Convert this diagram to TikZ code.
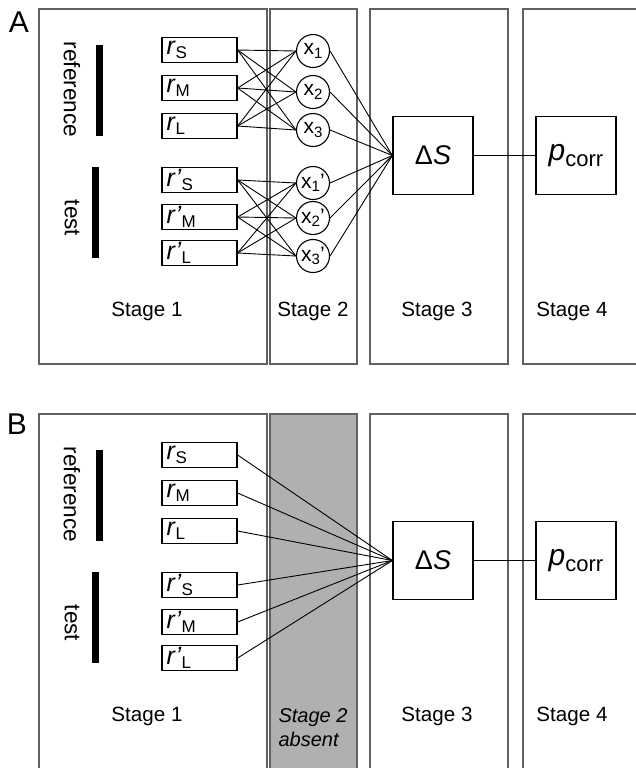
\documentclass[tikz,border=0pt]{standalone}
\usepackage{fontspec}
\setmainfont{Liberation Sans}
\newcommand{\sbs}[1]{\raisebox{-0.3ex}{\fontsize{7.5}{9}\selectfont #1}}
\newcommand{\rlab}[2]{\fontsize{12.5}{14}\selectfont\textit{r#1}\raisebox{-0.3ex}{\fontsize{8.5}{10}\selectfont #2}}

\begin{document}
\begin{tikzpicture}[x=0.5pt,y=-0.5pt,
  etapa/.style={draw=black!62,line width=0.75pt},
  caja/.style={draw,line width=0.65pt,fill=white,minimum width=37.5pt,minimum height=12.5pt,inner sep=0pt,text width=33pt,align=left},
  nodo/.style={draw,circle,line width=0.55pt,fill=white,minimum size=16.5pt,inner sep=0pt,font=\fontsize{10.5}{12}\selectfont},
  grande/.style={draw,line width=0.65pt,minimum width=40pt,minimum height=39pt,inner sep=0pt},
  rotulo/.style={font=\fontsize{10.3}{12}\selectfont},
  enlace/.style={line width=0.45pt}]
        \useasboundingbox (0,0) rectangle (636,768);
        \clip (0,0) rectangle (636,768);
        \fill[black!31] (270,414) rectangle (357,768); % etapa 2 ausente
        \node[font=\fontsize{15}{18}\selectfont] (letraA) at (19,22) {A};
        \node[font=\fontsize{15}{18}\selectfont] (letraB) at (17,424) {B};
        \foreach \p/\dy in {A/0,B/405}{
        \draw[etapa] (39,9+\dy) rectangle (267,364+\dy);
        \draw[etapa] (270,9+\dy) rectangle (357,364+\dy);
        \draw[etapa] (370,9+\dy) rectangle (508,364+\dy);
        \draw[etapa] (523,9+\dy) rectangle (650,364+\dy);
        \fill (96,45+\dy) rectangle (103,136+\dy); % barra referencia
        \fill (92,167+\dy) rectangle (99,258+\dy); % barra test
        \node[rotate=-90,font=\fontsize{11.3}{13}\selectfont] (refe\p) at (72,89.5+\dy) {reference};
        \node[rotate=-90,font=\fontsize{11.3}{13}\selectfont] (test\p) at (72,218+\dy) {test};
        \node[caja] (rS\p) at (199.5,50+\dy) {\rlab{}{S}};
        \node[caja] (rM\p) at (199.5,88+\dy) {\rlab{}{M}};
        \node[caja] (rL\p) at (199.5,126+\dy) {\rlab{}{L}};
        \node[caja] (qS\p) at (199.5,180+\dy) {\rlab{'}{S}};
        \node[caja] (qM\p) at (199.5,217+\dy) {\rlab{'}{M}};
        \node[caja] (qL\p) at (199.5,253+\dy) {\rlab{'}{L}};
        \node[grande] (dS\p) at (433,155.5+\dy) {\fontsize{13.5}{16}\selectfont Δ\textit{S}};
        \node[grande] (pc\p) at (576,155.5+\dy) {\fontsize{15}{18}\selectfont\textit{p}\raisebox{-0.35ex}{\fontsize{11}{13}\selectfont corr}};
        \draw[enlace] (dS\p) -- (pc\p);
        \node[rotulo] (et1\p) at (147,311+\dy) {Stage 1};
        \node[rotulo] (et3\p) at (437,311+\dy) {Stage 3};
        \node[rotulo] (et4\p) at (572,311+\dy) {Stage 4};
        }
        % panel A: etapa 2
        \foreach \i/\y in {1/51,2/92,3/130}
        \node[nodo] (x\i) at (313,\y) {x\sbs{\i}};
        \foreach \i/\y in {1/183,2/218,3/256}
        \node[nodo] (y\i) at (313,\y) {x\sbs{\i}'};
        \foreach \tam in {S,M,L}
        \foreach \i in {1,2,3}{
        \draw[enlace] (r\tam A.east) -- (x\i.west);
        \draw[enlace] (q\tam A.east) -- (y\i.west);
        }
        \foreach \i in {1,2,3}{
        \draw[enlace] (x\i.east) -- (dSA.west);
        \draw[enlace] (y\i.east) -- (dSA.west);
        }
        \node[rotulo] (et2A) at (313,311) {Stage 2};
        % panel B
        \foreach \tam in {S,M,L}{
        \draw[enlace] (r\tam B.east) -- (dSB.west);
        \draw[enlace] (q\tam B.east) -- (dSB.west);
        }
        \node[rotulo,font=\itshape,align=left] (et2B) at (313,728) {Stage 2\\absent};
\end{tikzpicture}
\end{document}
